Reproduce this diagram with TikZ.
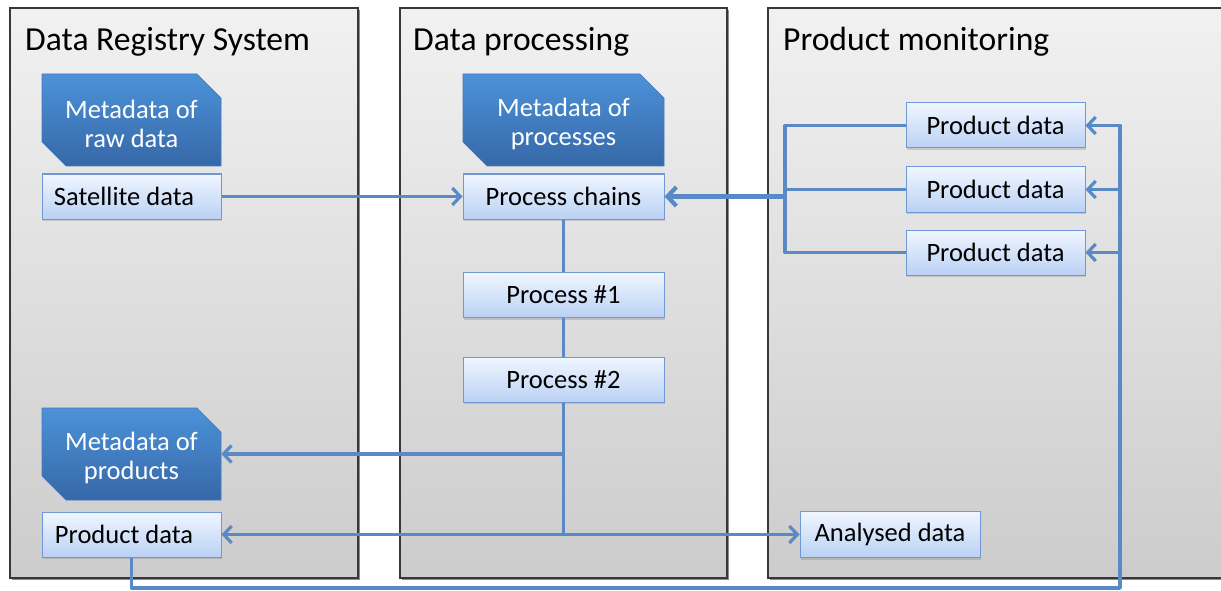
\documentclass[tikz,border=0pt]{standalone}
\usepackage{fontspec}
\setmainfont{Carlito}
\usetikzlibrary{arrows.meta,shapes.misc,shadows,calc}

\definecolor{linkblue}{RGB}{90,138,198}
\definecolor{darktop}{RGB}{76,146,216}
\definecolor{darkbot}{RGB}{54,104,168}
\definecolor{darkedge}{RGB}{70,120,190}
\definecolor{lighttop}{RGB}{240,246,255}
\definecolor{lightbot}{RGB}{186,209,244}
\definecolor{lightedge}{RGB}{112,152,212}
\definecolor{paneltop}{RGB}{241,241,241}
\definecolor{panelbot}{RGB}{204,204,204}

% taller first line pushes the two-line labels slightly down
\newcommand{\dropstrut}{\rule{0pt}{26pt}}

\tikzset{
  panel/.style={draw=black!78, line width=1.1pt, top color=paneltop, bottom color=panelbot},
  panelshadow/.style={fill=black!45, draw=none},
  title/.style={anchor=base west, inner sep=0pt, font=\fontsize{33.6}{36}\selectfont},
  metabox/.style={chamfered rectangle, chamfered rectangle corners={north east,south west},
    chamfered rectangle xsep=12pt, chamfered rectangle ysep=12pt,
    minimum height=92pt, inner sep=0pt, align=center, text=white,
    top color=darktop, bottom color=darkbot, draw=darkedge, line width=0.6pt,
    font=\fontsize{26.5}{29.5}\selectfont},
  databox/.style={rectangle, minimum height=45pt, inner sep=0pt,
    top color=lighttop, bottom color=lightbot, draw=lightedge, line width=1pt,
    font=\fontsize{26.5}{29}\selectfont,
    drop shadow={shadow xshift=1pt, shadow yshift=-2pt, opacity=0.3}},
  conn/.style={draw=linkblue, line width=3.4pt, line join=round},
  tip/.style={-{Straight Barb[length=8pt,width=17pt,line width=3.2pt]}},
  tips/.style={{Straight Barb[length=8pt,width=17pt,line width=3.2pt]}-{Straight Barb[length=8pt,width=17pt,line width=3.2pt]}},
}

\begin{document}
\begin{tikzpicture}[x=1pt,y=-1pt]
\useasboundingbox (0,0) rectangle (1221,591);
\fill[white] (0,0) rectangle (1221,591);

% three swimlanes
\fill[panelshadow] (12,10) rectangle (360,580);
\fill[panelshadow] (402,10) rectangle (729,580);
\fill[panelshadow] (770,10) rectangle (1240,580);
\path[panel] (10,8) rectangle (358,578);
\path[panel] (400,8) rectangle (727,578);
\path[panel] (768,8) rectangle (1240,578);

\node[title] (t1) at (25,51) {Data Registry System};
\node[title] (t2) at (413,51) {Data processing};
\node[title] (t3) at (783,51) {Product monitoring};

% data registry lane
\node[metabox, minimum width=179pt] (metaraw) at (131.5,120) {\dropstrut Metadata of\\raw data};
\node[databox, minimum width=179pt] (sat) at (131.5,196.5) {\hspace*{-15pt}Satellite data};
\node[metabox, minimum width=179pt] (metaprod) at (131.5,454) {\dropstrut Metadata of\\products};
\node[databox, minimum width=179pt] (pdL) at (131.5,534.5) {\hspace*{-15pt}Product data};

% processing lane
\node[metabox, minimum width=201pt] (metaproc) at (563.5,120) {\dropstrut Metadata of\\processes};
\node[databox, minimum width=201pt] (chains) at (563.5,196.5) {Process chains};
\node[databox, minimum width=201pt] (p1) at (563.5,295) {Process \#1};
\node[databox, minimum width=201pt] (p2) at (563.5,379.5) {Process \#2};

% monitoring lane
\node[databox, minimum width=179pt] (pd1) at (995.5,125.5) {Product data};
\node[databox, minimum width=179pt] (pd2) at (995.5,189.5) {Product data};
\node[databox, minimum width=179pt] (pd3) at (995.5,252.5) {Product data};
\node[databox, minimum width=180pt, minimum height=46pt] (ana) at (890,534.5) {Analysed data};

\coordinate (bx) at (785,0);
\coordinate (fb) at (1120,588);

% connectors
\draw[conn, tip] (sat.east) -- (chains.west);
\draw[conn] (chains.south) -- (p1.north);
\draw[conn] (p1.south) -- (p2.north);
\draw[conn] (p2.south) -- (p2.south |- pdL.east);
\draw[conn, tip] (p2.south |- metaprod.east) -- (metaprod.east);
\draw[conn, tips] (pdL.east) -- (ana.west);

\draw[conn] (pd1.west) -- (bx |- pd1.west) -- (bx |- pd3.west) -- (pd3.west);
\draw[conn] (pd2.west) -- (bx |- pd2.west);
\draw[conn, line width=4.8pt, -{Straight Barb[length=9pt,width=19pt,line width=4.2pt]}] (bx |- chains.east) -- (chains.east);

\draw[conn, tip] (pdL.south) |- (fb) -- (fb |- pd1.east) -- (pd1.east);
\draw[conn, tip] (fb |- pd2.east) -- (pd2.east);
\draw[conn, tip] (fb |- pd3.east) -- (pd3.east);
\end{tikzpicture}
\end{document}
